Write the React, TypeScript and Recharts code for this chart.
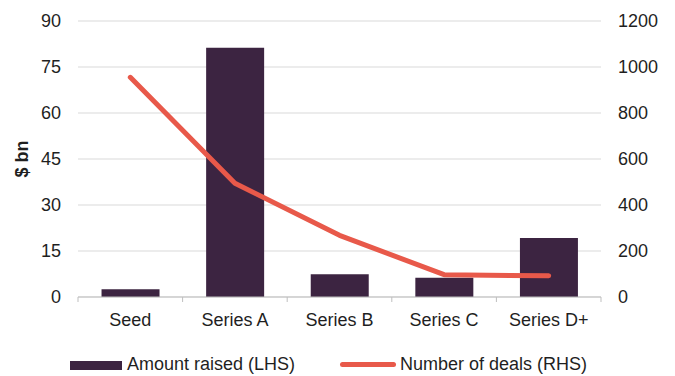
import React from "react";
import { Bar, CartesianGrid, ComposedChart, Legend, Line, XAxis, YAxis } from "recharts";

const stages = ["Seed", "Series A", "Series B", "Series C", "Series D+"];
const amountRaised = [2.5, 81.3, 7.4, 6.3, 19.2];
const dealCount = [955, 495, 268, 97, 92];
const leftTicks = [0, 15, 30, 45, 60, 75, 90];
const rightTicks = [0, 200, 400, 600, 800, 1000, 1200];

const W = 675;
const H = 376;
const LEFT_AXIS_W = 78;
const RIGHT_AXIS_W = 74;
const BAR_COLOR = "#3c2441";
const LINE_COLOR = "#e8594a";
const TEXT = "#1f1f1f";
const FONT = "'Liberation Sans', Arial, sans-serif";
const FONT_SIZE = 18;

const data = stages.map((stage, i) => ({
  stage,
  amount: amountRaised[i],
  deals: dealCount[i],
}));

const band = (W - LEFT_AXIS_W - RIGHT_AXIS_W) / stages.length;

// category label plus boundary tick marks (Excel style, between categories)
function StageTick(props: any) {
  const { x, y, payload, index } = props;
  const top = y - 16;
  return (
    <g>
      <line x1={x - band / 2} x2={x - band / 2} y1={top} y2={top + 5} stroke="#bfbfbf" />
      {index === stages.length - 1 && (
        <line x1={x + band / 2} x2={x + band / 2} y1={top} y2={top + 5} stroke="#bfbfbf" />
      )}
      <text x={x} y={y} dy="0.71em" textAnchor="middle" fill={TEXT} fontSize={FONT_SIZE} fontFamily={FONT}>
        {payload.value}
      </text>
    </g>
  );
}

function LegendBox() {
  const label = {
    position: "absolute" as const,
    top: 11,
    lineHeight: "22px",
    fontSize: FONT_SIZE,
    color: TEXT,
    fontFamily: FONT,
    whiteSpace: "nowrap" as const,
  };
  return (
    <div style={{ position: "relative", width: W, height: 34 }}>
      <div style={{ position: "absolute", left: 70, top: 19, width: 52, height: 9, background: BAR_COLOR }} />
      <span style={{ ...label, left: 127 }}>Amount raised (LHS)</span>
      <div
        style={{
          position: "absolute",
          left: 340,
          top: 20,
          width: 56,
          height: 5,
          borderRadius: 3,
          background: LINE_COLOR,
        }}
      />
      <span style={{ ...label, left: 400 }}>Number of deals (RHS)</span>
    </div>
  );
}

export default function App() {
  const tickStyle = { fill: TEXT, fontSize: FONT_SIZE, fontFamily: FONT };
  return (
    <div style={{ position: "absolute", left: 0, top: 0, width: W, height: H, background: "#fff" }}>
      <ComposedChart
        width={W}
        height={H}
        data={data}
        margin={{ top: 21, right: 0, bottom: 0, left: 0 }}
        barCategoryGap="22.5%"
      >
        <CartesianGrid yAxisId="left" vertical={false} stroke="#d9d9d9" />
        <XAxis
          dataKey="stage"
          height={45}
          axisLine={{ stroke: "#bfbfbf" }}
          tickLine={false}
          tickSize={0}
          tickMargin={16}
          tick={<StageTick />}
          interval={0}
        />
        <YAxis
          yAxisId="left"
          width={LEFT_AXIS_W}
          domain={[0, 90]}
          ticks={leftTicks}
          axisLine={false}
          tickLine={false}
          tickSize={0}
          tickMargin={17}
          tick={tickStyle}
          label={{
            content: (p: any) => {
              const cx = 22;
              const cy = p.viewBox.y + p.viewBox.height / 2;
              return (
                <text
                  x={cx}
                  y={cy}
                  transform={`rotate(-90 ${cx} ${cy})`}
                  textAnchor="middle"
                  dominantBaseline="central"
                  fill={TEXT}
                  fontSize={FONT_SIZE}
                  fontWeight="bold"
                  fontFamily={FONT}
                >
                  $ bn
                </text>
              );
            },
          }}
        />
        <YAxis
          yAxisId="right"
          orientation="right"
          width={RIGHT_AXIS_W}
          domain={[0, 1200]}
          ticks={rightTicks}
          axisLine={false}
          tickLine={false}
          tickSize={0}
          tickMargin={17}
          tick={{ ...tickStyle, textAnchor: "start" }}
        />
        <Legend
          verticalAlign="bottom"
          content={<LegendBox />}
          wrapperStyle={{ left: 0, width: W }}
        />
        <Bar yAxisId="left" dataKey="amount" name="Amount raised (LHS)" fill={BAR_COLOR} isAnimationActive={false} />
        <Line
          yAxisId="right"
          dataKey="deals"
          name="Number of deals (RHS)"
          type="linear"
          stroke={LINE_COLOR}
          strokeWidth={5}
          strokeLinecap="round"
          strokeLinejoin="round"
          dot={false}
          activeDot={false}
          isAnimationActive={false}
        />
      </ComposedChart>
    </div>
  );
}
